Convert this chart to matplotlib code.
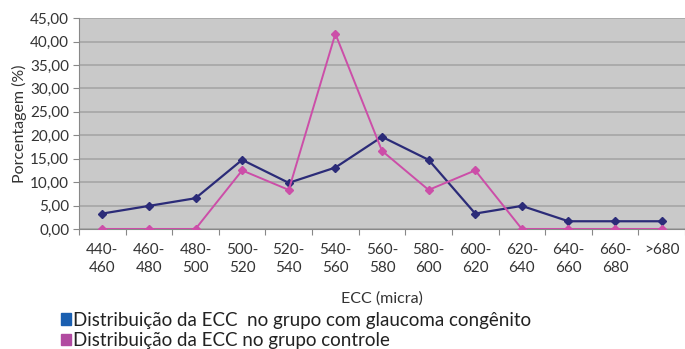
import matplotlib
matplotlib.use('Agg')
import matplotlib.pyplot as plt
from matplotlib.patches import Patch
from matplotlib.ticker import FuncFormatter

categories = ['440-\n460', '460-\n480', '480-\n500', '500-\n520', '520-\n540', '540-\n560',
              '560-\n580', '580-\n600', '600-\n620', '620-\n640', '640-\n660', '660-\n680', '>680']
glaucoma = [3.28, 4.92, 6.56, 14.75, 9.84, 13.11, 19.67, 14.75, 3.28, 4.92, 1.64, 1.64, 1.64]
controle = [0.0, 0.0, 0.0, 12.50, 8.33, 41.67, 16.67, 8.33, 12.50, 0.0, 0.0, 0.0, 0.0]
legend_labels = ['Distribuição da ECC  no grupo com glaucoma congênito',
                 'Distribuição da ECC no grupo controle']

plt.rcParams['font.family'] = ['Lato', 'DejaVu Sans']

fig = plt.figure(figsize=(6.85, 3.49), dpi=100)
ax = fig.add_axes([0.1153, 0.344, 0.8847, 0.604])
ax.set_facecolor('#c9c9c9')

x = list(range(len(categories)))
ax.plot(x, glaucoma, color='#2b2b78', lw=1.6, marker='D', ms=4.5, zorder=3)
ax.plot(x, controle, color='#cc4ea8', lw=1.4, marker='D', ms=4, zorder=3)

ax.set_xlim(-0.5, len(categories) - 0.5)
ax.set_ylim(0, 45)
ax.set_yticks(range(0, 46, 5))
ax.yaxis.set_major_formatter(FuncFormatter(lambda v, p: f'{v:.2f}'.replace('.', ',')))
ax.grid(axis='y', color='#a6a6a6', lw=1.2)
ax.set_axisbelow(True)

ax.set_xticks([i + 0.5 for i in range(-1, len(categories))])
ax.set_xticklabels([])
ax.set_xticks(x, minor=True)
ax.set_xticklabels(categories, minor=True, fontsize=11, color='#333333', linespacing=1.35)
ax.tick_params(axis='x', which='major', length=4, color='#888888')
ax.tick_params(axis='x', which='minor', length=0, pad=10)
ax.tick_params(axis='y', length=4, color='#888888', labelsize=11, labelcolor='#333333', pad=3)

for s in ['top', 'right']:
    ax.spines[s].set_visible(False)
for s in ['left', 'bottom']:
    ax.spines[s].set_color('#888888')

ax.set_ylabel('Porcentagem (%)', fontsize=11.5, color='#333333', labelpad=2)
ax.set_xlabel('ECC (micra)', fontsize=11.5, color='#333333', labelpad=12)

handles = [Patch(color='#1a5fb0'), Patch(color='#b14aa0')]
fig.legend(handles, legend_labels, loc='upper left', bbox_to_anchor=(0.075, 0.134),
           frameon=False, fontsize=13.5, handlelength=0.55, handleheight=0.55,
           handletextpad=0.1, labelspacing=0.2, borderpad=0, labelcolor='#222222')

fig.savefig('out.png', dpi=100)
